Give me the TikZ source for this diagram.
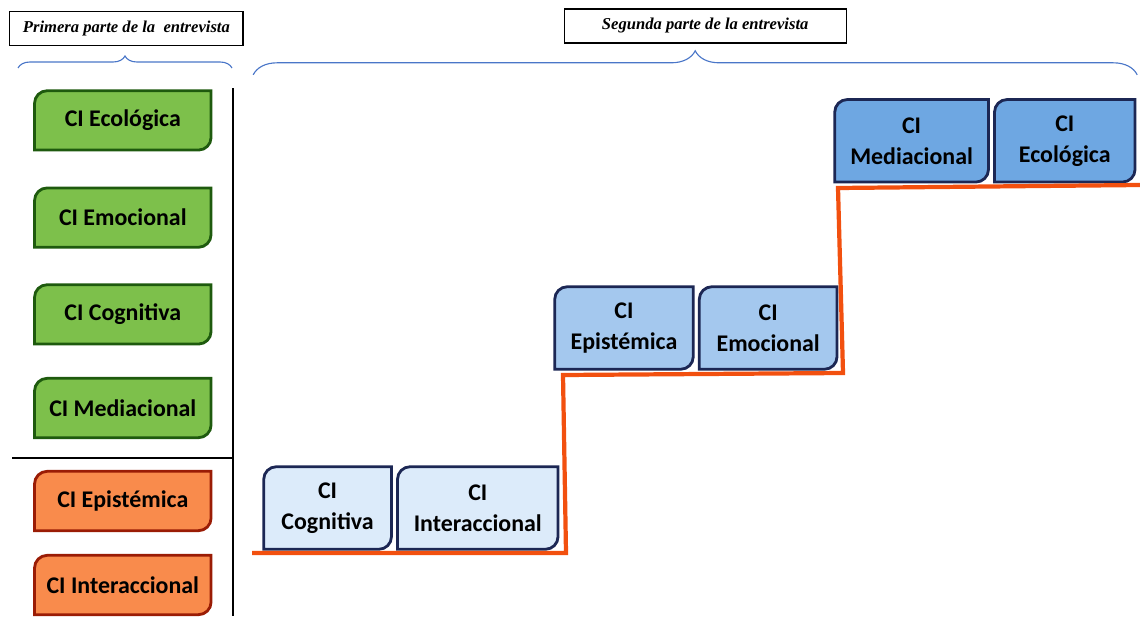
\documentclass[tikz,border=0pt]{standalone}
\usepackage{fontspec}
\setmainfont{Carlito}
\newfontfamily\headfont{Liberation Serif}
\usepackage{tikz}
\usetikzlibrary{positioning,backgrounds,decorations.pathreplacing}
\definecolor{mygreen}{HTML}{7DC04B}
\definecolor{mydarkgreen}{HTML}{1E5A0E}
\definecolor{myorange}{HTML}{F98B4C}
\definecolor{mydarkred}{HTML}{9A1C05}
\definecolor{mylightblue}{HTML}{DCEBFA}
\definecolor{mymidblue}{HTML}{A4C8EE}
\definecolor{myblue}{HTML}{6EA7E2}
\definecolor{mynavy}{HTML}{1C2754}
\definecolor{mystep}{HTML}{F2500F}
\definecolor{mybrace}{HTML}{4A76C8}
\def\cirad{9pt}
\def\boxsep{0.15cm}
\tikzset{
  ci/.style={font=\fontsize{17}{22}\selectfont\bfseries,align=center,inner sep=0,text=black},
  ci left/.style={ci,minimum width=4.4cm,minimum height=1.47cm},
  ci step/.style={ci,minimum height=2.05cm},
  shape green/.style={line width=2pt,draw=mydarkgreen,fill=mygreen},
  shape orange/.style={line width=2pt,draw=mydarkred,fill=myorange},
  shape light/.style={line width=2pt,draw=mynavy,fill=mylightblue},
  shape mid/.style={line width=2pt,draw=mynavy,fill=mymidblue},
  shape dark/.style={line width=2pt,draw=mynavy,fill=myblue},
  header/.style={draw,thick,font=\headfont\fontsize{11.8}{13}\selectfont\bfseries\itshape,minimum height=0.85cm},
  hbrace/.style={decorate,decoration={brace},mybrace,thick},
  stepline/.style={mystep,line width=3pt}
}
% box with two rounded corners, drawn round a node
\newcommand{\cioutline}[2]{%
  \draw[#2] (#1.south west) -- ([yshift=-\cirad]#1.north west)
    arc[start angle=180,end angle=90,radius=\cirad] -- (#1.north east)
    -- ([yshift=\cirad]#1.south east)
    arc[start angle=0,end angle=-90,radius=\cirad] -- cycle;}

\begin{document}
\begin{tikzpicture}
  \useasboundingbox (0,0) rectangle (28.5,15.4);

  \node[header,minimum width=5.83cm] (head1) at (3.16,14.69) {Primera parte de la\ \ entrevista};
  \node[header,minimum width=7.05cm] (head2) at (17.63,14.75) {Segunda parte de la entrevista};
  \draw[hbrace,decoration={amplitude=0.3cm}] (0.45,13.7) -- (5.8,13.7);
  \draw[hbrace,decoration={amplitude=0.6cm}] (6.33,13.53) -- (28.43,13.53);

  \draw[thick] (5.825,13.2) -- (5.825,0);
  \draw[thick] (0.3,3.95) -- (5.825,3.95);

  % left column
  \foreach \name/\y/\txt in {l1/12.39/CI Ecológica,l2/9.96/CI Emocional,l3/7.54/CI Cognitiva,
      l4/5.2/CI Mediacional,l5/2.875/CI Epistémica,l6/0.775/CI Interaccional}
    \node[ci left] (\name) at (3.07,\y) {\txt};

  % steps
  \node[ci step,minimum width=3.18cm] (a1) at (8.19,2.7) {CI\\Cognitiva};
  \node[ci step,minimum width=4.0cm,right=\boxsep of a1] (a2) {CI\\Interaccional};
  \node[ci step,minimum width=3.45cm] (b1) at (15.6,7.2) {CI\\Epistémica};
  \node[ci step,minimum width=3.43cm,right=\boxsep of b1] (b2) {CI\\Emocional};
  \node[ci step,minimum width=3.83cm] (c1) at (22.79,11.88) {CI\\Mediacional};
  \node[ci step,minimum width=3.5cm,right=\boxsep of c1] (c2) {CI\\Ecológica};

  \begin{scope}[on background layer]
    \foreach \i in {1,...,4}
      \cioutline{l\i}{shape green};
    \foreach \i in {5,6}
      \cioutline{l\i}{shape orange};
    \foreach \i in {1,2}{
        \cioutline{a\i}{shape light};
        \cioutline{b\i}{shape mid};
        \cioutline{c\i}{shape dark};
      }
  \end{scope}

  \draw[stepline] (6.3,1.575) -- (14.15,1.575) -- (14.075,6.025) -- (21.075,6.075)
    -- (20.95,10.7) -- (28.5,10.775);
\end{tikzpicture}
\end{document}
